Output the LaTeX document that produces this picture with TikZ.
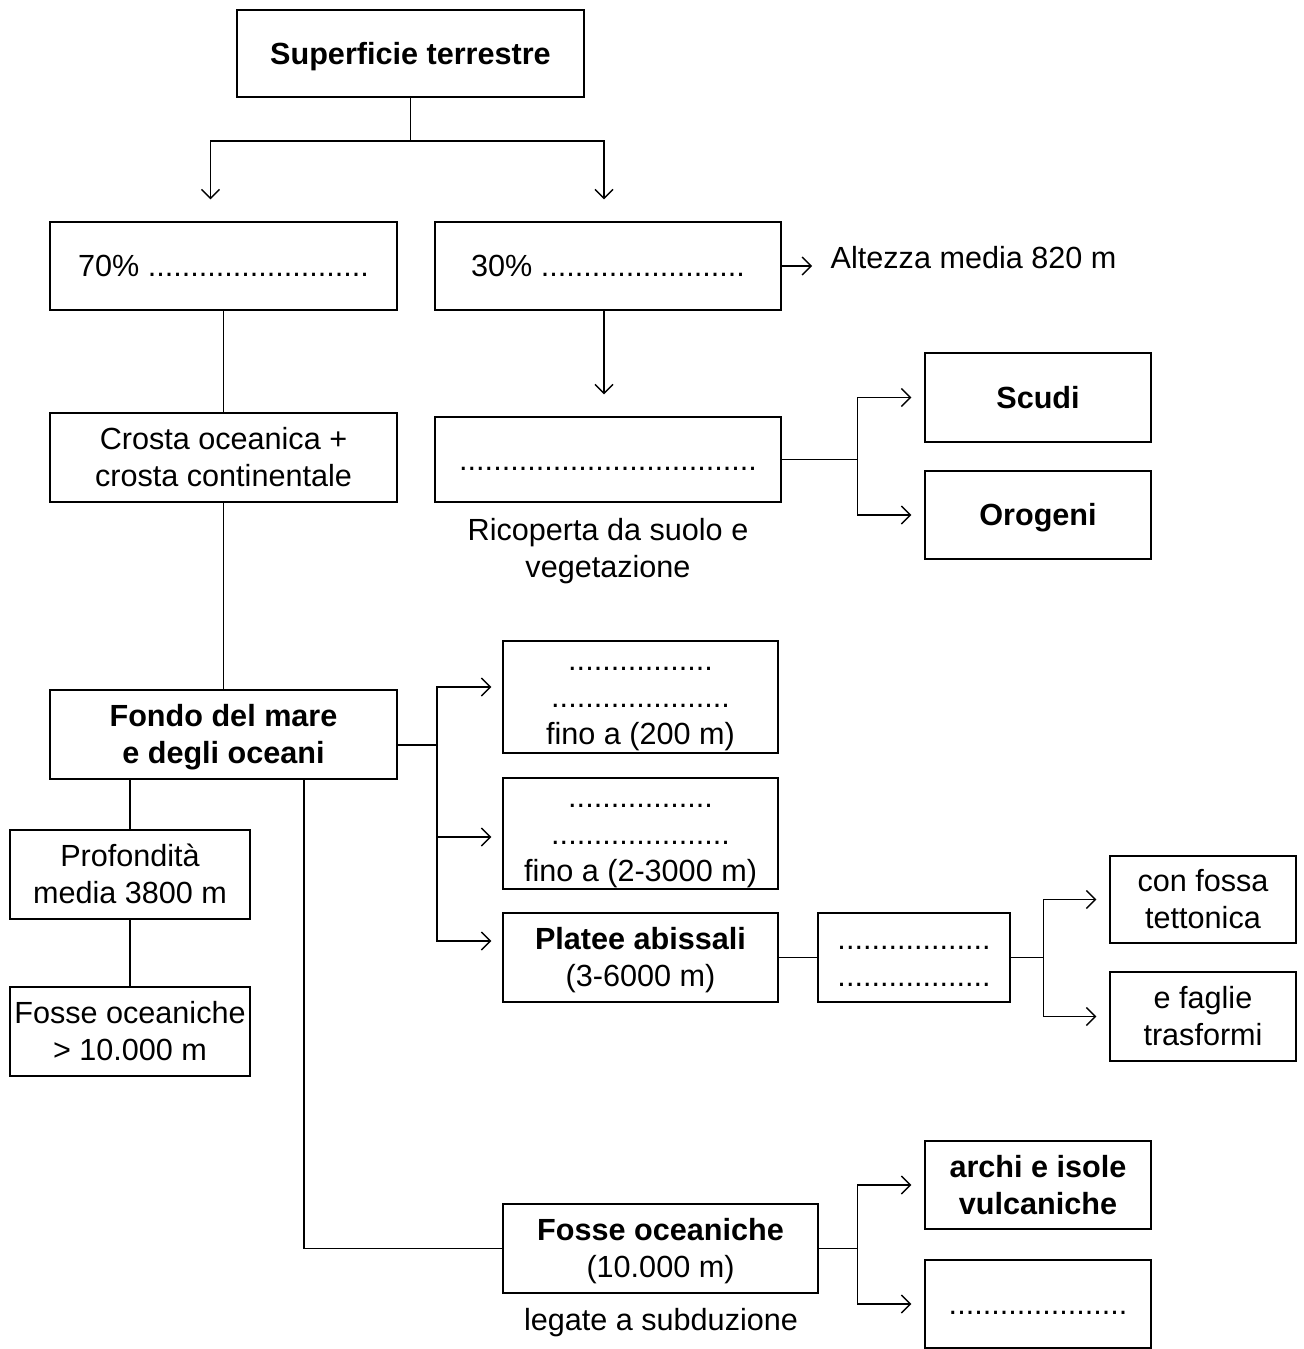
\documentclass[tikz,border=0pt]{standalone}
\usepackage{fontspec}
\setmainfont{Liberation Sans}
\usetikzlibrary{positioning,arrows.meta}
\newcommand\boxstrut{\rule[-3.3pt]{0pt}{17.3pt}}

\begin{document}
\begin{tikzpicture}[x=0.5pt,y=-0.5pt,line width=0.7pt,
  font=\fontsize{15.3}{18.5}\selectfont,
  box/.style={draw,inner sep=0pt,align=center,
    execute at begin node=\boxstrut,execute at end node=\boxstrut},
  lbl/.style={inner sep=0pt,align=center,
    execute at begin node=\boxstrut,execute at end node=\boxstrut},
  tip/.style={-{Straight Barb[length=4.5pt,width=9pt]}}]
\useasboundingbox (0,0) rectangle (1304,1349);

% top and first split
\node[box,minimum width=173.5pt,minimum height=43.5pt] (top) at (410.5,53.5) {\textbf{Superficie terrestre}};
\node[box,minimum width=173.5pt,minimum height=44pt] (p70) at (223.5,266) {70\% ..........................};
\node[box,minimum width=173pt,minimum height=44pt] (p30) at (608,266) {30\% ........................};
\node[lbl,anchor=west] (alt) at (830,258) {Altezza media 820 m};
\coordinate (split) at (410.5,141);
\draw (top.south) -- (split);
\draw[tip,shorten >=11pt] (split) -| ([xshift=-6.5pt]p70.north);
\draw[tip,shorten >=11pt] (split) -| ([xshift=-2pt]p30.north);
\draw[tip,shorten >=9pt] (p30.east) -- (p30.east -| alt.west);

% continents
\node[box,minimum width=173pt,minimum height=42.5pt] (cont) at (608,459.5) {...................................};
\node[lbl] (ric) at (608,548) {\boxstrut Ricoperta da suolo e\\vegetazione};
\node[box,minimum width=113pt,minimum height=44.5pt] (scudi) at (1038,397.5) {\textbf{Scudi}};
\node[box,minimum width=113pt,minimum height=44pt] (orog) at (1038,515) {\textbf{Orogeni}};
\draw[tip,shorten >=11pt] ([xshift=-2pt]p30.south) -- ([xshift=-2pt]cont.north);
\draw[tip,shorten >=6.5pt] (cont.east) -- ++(76,0) |- (scudi.west);
\draw[tip,shorten >=6.5pt] (cont.east) -- ++(76,0) |- (orog.west);

% oceans
\node[box,minimum width=173.5pt,minimum height=44.5pt] (crosta) at (223.5,457.5) {\boxstrut Crosta oceanica +\\crosta continentale};
\node[box,minimum width=173.5pt,minimum height=44.5pt] (fondo) at (223.5,734.5) {\boxstrut\textbf{Fondo del mare}\\\textbf{e degli oceani}};
\draw (p70.south) -- (crosta.north);
\draw (crosta.south) -- (fondo.north);

\node[box,minimum width=120pt,minimum height=44.5pt] (prof) at (130,874.5) {\boxstrut Profondità\\media 3800 m};
\node[box,minimum width=120pt,minimum height=44.5pt] (fosse1) at (130,1031.5) {\boxstrut Fosse oceaniche\\> 10.000 m};
\draw (prof.north |- fondo.south) -- (prof.north);
\draw (prof.south) -- (fosse1.north);

\node[box,minimum width=137.5pt,minimum height=56pt] (shelf) at (640.5,697) {\boxstrut.................\\.....................\\fino a (200 m)};
\node[box,minimum width=137.5pt,minimum height=55.5pt] (slope) at (640.5,833.5) {\boxstrut.................\\.....................\\fino a (2-3000 m)};
\node[box,minimum width=137.5pt,minimum height=44.5pt] (platee) at (640.5,957.5) {\boxstrut\textbf{Platee abissali}\\(3-6000 m)};
\coordinate (fj) at (437,745);
\draw (fondo.east |- fj) -- (fj);
\draw[tip,shorten >=5.5pt] (fj) |- (shelf.west |- 0,687);
\draw[tip,shorten >=5.5pt] (fj) |- (slope.west |- 0,837);
\draw[tip,shorten >=5.5pt] (fj) |- (platee.west |- 0,941);

\node[box,minimum width=96pt,minimum height=44.5pt] (dors) at (914,957.5) {\boxstrut..................\\..................};
\node[box,minimum width=93pt,minimum height=43.5pt] (fossa) at (1203,899.5) {\boxstrut con fossa\\tettonica};
\node[box,minimum width=93pt,minimum height=44.5pt] (faglie) at (1203,1016.5) {\boxstrut e faglie\\trasformi};
\draw (platee.east) -- (dors.west);
\draw[tip,shorten >=6.5pt] (dors.east) -- ++(33,0) |- (fossa.west);
\draw[tip,shorten >=6.5pt] (dors.east) -- ++(33,0) |- (faglie.west);

% trenches
\node[box,minimum width=157.5pt,minimum height=44.5pt] (fosse2) at (660.5,1248.5) {\boxstrut\textbf{Fosse oceaniche}\\(10.000 m)};
\node[lbl] (sub) at (661,1320) {legate a subduzione};
\node[box,minimum width=113pt,minimum height=44pt] (archi) at (1038,1185) {\boxstrut\textbf{archi e isole}\\\textbf{vulcaniche}};
\node[box,minimum width=113pt,minimum height=44pt] (vuoto) at (1038,1304) {.....................};
\draw (fondo.south -| 304,0) |- (fosse2.west);
\draw[tip,shorten >=6.5pt] (fosse2.east) -- ++(39,0) |- (archi.west);
\draw[tip,shorten >=6.5pt] (fosse2.east) -- ++(39,0) |- (vuoto.west);
\end{tikzpicture}
\end{document}
